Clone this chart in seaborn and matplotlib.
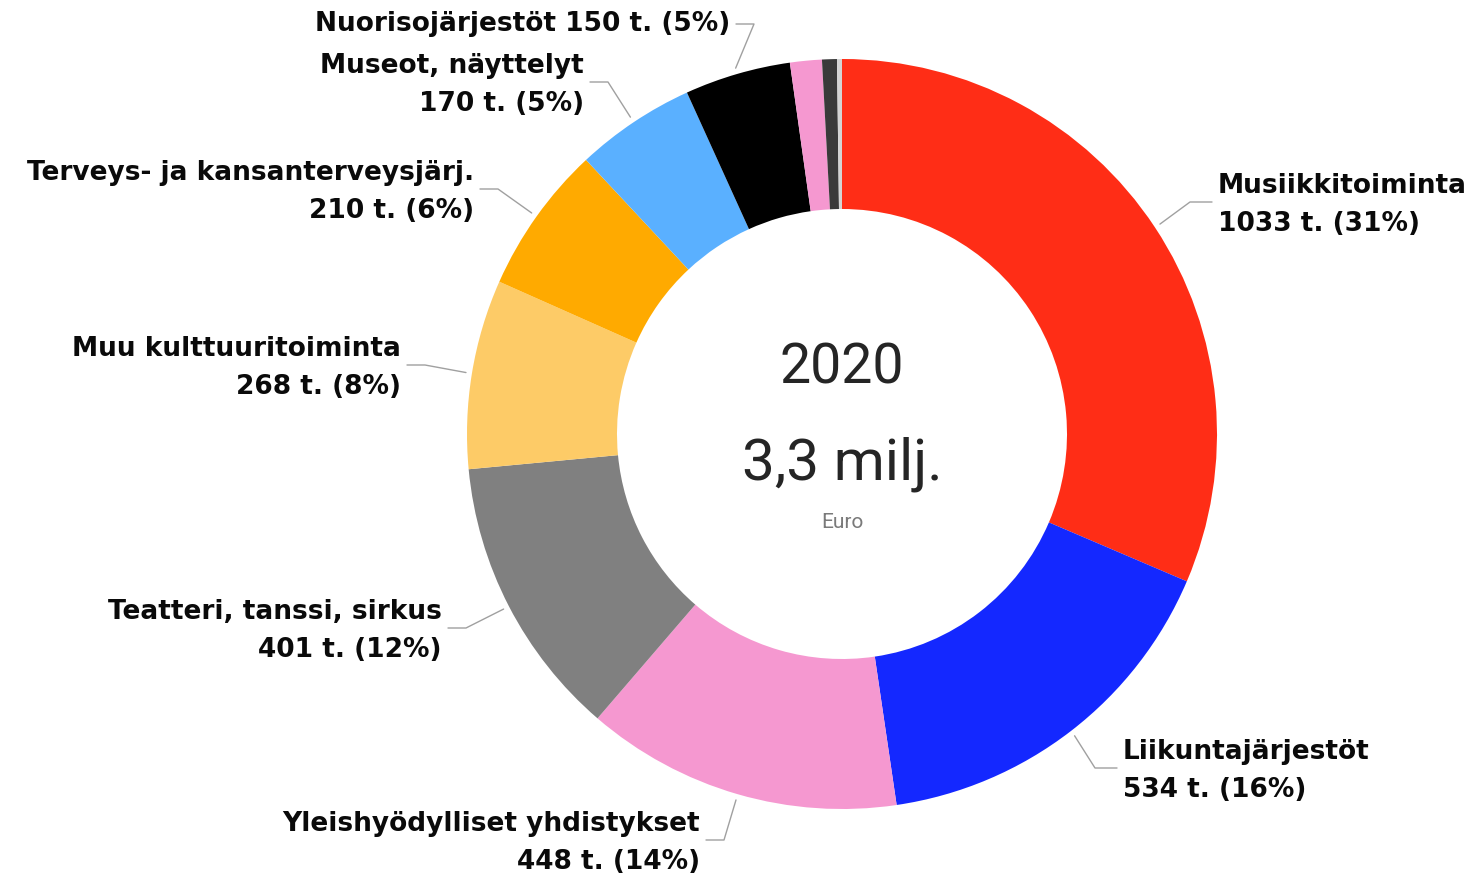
import numpy as np
import matplotlib
matplotlib.use("Agg")
import matplotlib.pyplot as plt
import seaborn as sns

sns.set_theme(style="white")
plt.rcParams['font.family'] = ['DejaVu Sans']

# --- data (thousand euro, 2020) ---
categories = ["Musiikkitoiminta", "Liikuntajärjestöt", "Yleishyödylliset yhdistykset",
              "Teatteri, tanssi, sirkus", "Muu kulttuuritoiminta",
              "Terveys- ja kansanterveysjärj.", "Museot, näyttelyt", "Nuorisojärjestöt",
              "Muu 1", "Muu 2", "Muu 3"]
values = [1033, 534, 448, 401, 268, 210, 170, 150, 45, 21, 7]
colors = ["#FF2D16", "#1428FF", "#F598D0", "#808080", "#FDCB67", "#FFAA00",
          "#5AB0FF", "#000000", "#F598D0", "#3A3A3A", "#D4D4D4"]
labelled = 8
center_title = "2020"
center_total = "3,3 milj."
center_unit = "Euro"

# label layout: (text x, text y, ha, one line?) in pixel coords (origin top-left)
label_pos = [
    (1218, 205, "left", False),
    (1123, 771, "left", False),
    (700, 843, "right", False),
    (442, 631, "right", False),
    (401, 368, "right", False),
    (474, 192, "right", False),
    (584, 85, "right", False),
    (730, 24, "right", True),
]

W, H = 1478, 880
cx, cy, R, ring = 842, H - 434, 375, 150

fig = plt.figure(figsize=(W / 100, H / 100), dpi=100)
ax = fig.add_axes([0, 0, 1, 1])

wedges, _ = ax.pie(values, colors=colors, startangle=90, counterclock=False,
                   center=(cx, cy), radius=R,
                   wedgeprops=dict(width=ring, linewidth=0), frame=True)
ax.set_xlim(0, W)
ax.set_ylim(0, H)
ax.axis("off")

total = sum(values)
for i in range(labelled):
    w = wedges[i]
    ang = np.deg2rad((w.theta1 + w.theta2) / 2)
    tx, ty, ha, single = label_pos[i]
    ty = H - ty
    pct = round(values[i] / total * 100)
    if single:
        txt = f"{categories[i]} {values[i]} t. ({pct}%)"
    else:
        txt = f"{categories[i]}\n{values[i]} t. ({pct}%)"
    ax.text(tx, ty, txt, ha=ha, va="center", fontsize=19, fontweight="bold",
            color="#0a0a0a", linespacing=1.6)
    # leader line
    x0, y0 = cx + (R + 6) * np.cos(ang), cy + (R + 6) * np.sin(ang)
    ly = ty if single else ty + 3
    if ha == "left":
        xe = tx - 6
        xm = xe - 22
    else:
        xe = tx + 6
        xm = xe + 18
    ax.plot([x0, xm, xe], [y0, ly, ly], color="#a0a0a0", lw=1.0)

ax.text(cx, H - 368, center_title, ha="center", va="center", fontsize=40,
        color="#252525", family=["Roboto", "DejaVu Sans"])
ax.text(cx, H - 464, center_total, ha="center", va="center", fontsize=42,
        color="#252525", family=["Roboto", "DejaVu Sans"])
ax.text(cx, H - 522, center_unit, ha="center", va="center", fontsize=15,
        color="#7a7a7a", family=["Roboto", "DejaVu Sans"])

fig.savefig("out.png", dpi=100)
